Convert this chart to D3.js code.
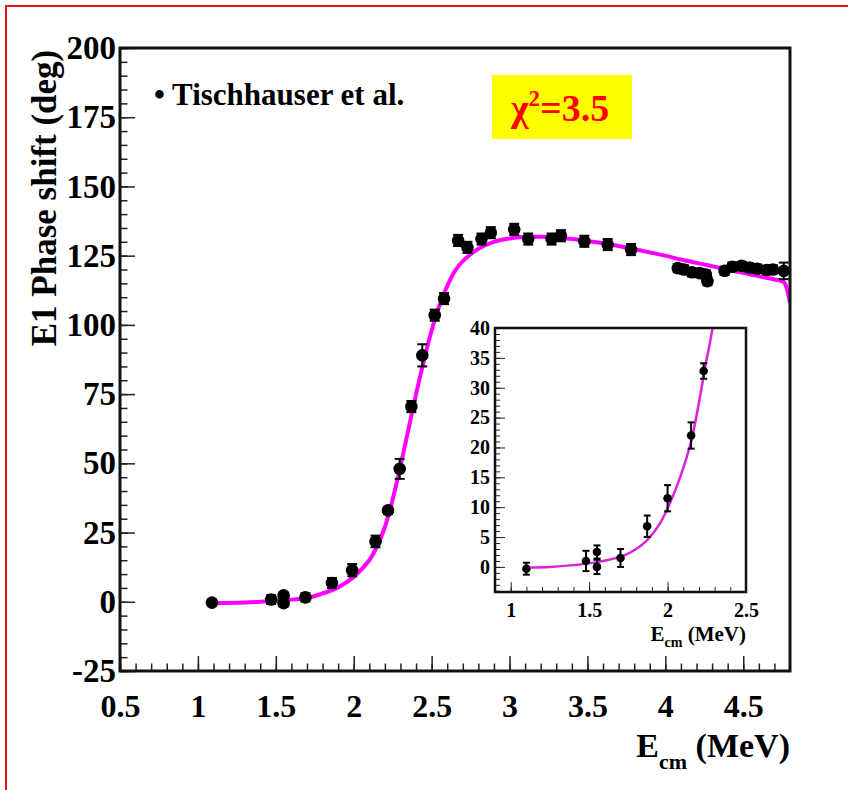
<!DOCTYPE html>
<html>
<head>
<meta charset="utf-8">
<script src="https://cdn.jsdelivr.net/npm/d3@7"></script>
<style>
  body { margin: 0; background: #fff; }
  svg text { font-family: "Liberation Serif", "Times New Roman", serif !important; font-weight: bold; }
</style>
</head>
<body>
<svg id="chart" width="848" height="790"></svg>
<script>
// main data (Tischhauser et al.)
const mainE = [1.09, 1.47, 1.55, 1.55, 1.69, 1.86, 1.99, 2.14, 2.22, 2.295, 2.37, 2.44, 2.52, 2.58,
  2.67, 2.73, 2.82, 2.88, 3.03, 3.12, 3.27, 3.33, 3.48, 3.63, 3.78,
  4.08, 4.12, 4.17, 4.22, 4.26, 4.27, 4.38, 4.43, 4.49, 4.54, 4.59, 4.65, 4.69, 4.76]
const mainPhase = [-0.3, 0.8, 2.3, -0.5, 1.6, 6.8, 11.4, 21.8, 33, 48, 70.5, 89, 103.5, 109.5,
  130.5, 128, 131, 133.3, 134.5, 131, 131, 132.2, 130.2, 129, 127.2,
  120.5, 120, 119, 118.7, 118.2, 115.8, 119.5, 121, 121.3, 120.7, 120.3, 119.8, 120, 119.5]
const mainErr = [1, 1.6, 1.1, 1.2, 1.5, 1.8, 2.2, 2.1, 1.3, 3.6, 2, 4, 2, 2,
  2, 2, 2, 2, 2, 2, 2, 2, 2, 2, 2,
  1.5, 1.5, 1.5, 1.5, 1.5, 1.5, 1.5, 1.5, 1.5, 1.5, 1.5, 1.5, 1.5, 3]

// fit curve
const fitE = [1.1, 1.3, 1.5, 1.7, 1.8, 1.9, 2.0, 2.1, 2.15, 2.2, 2.25, 2.3, 2.35, 2.4, 2.45, 2.5,
  2.55, 2.6, 2.65, 2.7, 2.8, 2.9, 3.0, 3.1, 3.2, 3.3, 3.4, 3.5, 3.6, 3.7, 3.8, 3.9, 4.0,
  4.1, 4.2, 4.3, 4.4, 4.5, 4.6, 4.7, 4.76, 4.78, 4.8]
const fitPhase = [-0.5, -0.3, 0.4, 1.4, 3, 5.2, 9, 15, 20, 27, 37, 49, 62, 75, 87, 98,
  107, 114, 119.5, 123, 127.5, 130, 131.2, 131.7, 131.8, 131.5, 131, 130.3, 129.5, 128.5, 127.3, 126.2, 125,
  123.6, 122.4, 121.2, 120, 118.8, 117.6, 116.4, 115.5, 113, 108]

// inset data
const insetE = [1.10, 1.48, 1.55, 1.55, 1.70, 1.87, 2.00, 2.15, 2.23]
const insetPhase = [-0.3, 1.0, 2.5, 0, 1.5, 6.8, 11.5, 22, 32.8]
const insetErr = [1.0, 1.7, 1.1, 1.2, 1.5, 1.8, 2.2, 2.2, 1.3]
const insetFitE = [1.1, 1.25, 1.4, 1.55, 1.72, 1.8, 1.87, 1.95, 2.02, 2.08, 2.15, 2.2, 2.24, 2.27, 2.29]
const insetFitPhase = [-0.1, 0, 0.3, 0.8, 1.9, 3.0, 4.5, 7.2, 11, 15, 21, 27.5, 33.5, 37.5, 40.5]

// ticks
const xTicks = [0.5, 1, 1.5, 2, 2.5, 3, 3.5, 4, 4.5]
const yTicks = [-25, 0, 25, 50, 75, 100, 125, 150, 175, 200]
const insetXTicks = [1, 1.5, 2, 2.5]
const insetYTicks = [0, 5, 10, 15, 20, 25, 30, 35, 40]

const serif = '"Liberation Serif", "Times New Roman", serif'
const svg = d3.select('#chart')

// red page border
svg.append('rect')
  .attr('x', 6).attr('y', 6).attr('width', 900).attr('height', 900)
  .attr('fill', 'none').attr('stroke', '#ee1111').attr('stroke-width', 2)

// main frame
const mLeft = 120, mRight = 790, mTop = 48, mBottom = 671
const x = d3.scaleLinear().domain([0.5, 4.8]).range([mLeft, mRight])
const y = d3.scaleLinear().domain([-25, 200]).range([mBottom, mTop])

svg.append('clipPath').attr('id', 'mainClip')
  .append('rect').attr('x', mLeft).attr('y', mTop).attr('width', mRight - mLeft).attr('height', mBottom - mTop)

function drawAxes (g, xs, ys, xt, yt, xMinor, yMinor, opt) {
  const b = ys.range()[0], l = xs.range()[0]
  g.append('g').attr('transform', `translate(0,${b})`)
    .call(d3.axisBottom(xs).tickValues(xMinor).tickSize(-opt.minor).tickFormat(''))
  g.append('g').attr('class', 'xlab').attr('transform', `translate(0,${b})`)
    .call(d3.axisBottom(xs).tickValues(xt).tickSize(-opt.major).tickPadding(opt.xPad)
      .tickFormat(d => String(d)))
  g.append('g').attr('transform', `translate(${l},0)`)
    .call(d3.axisLeft(ys).tickValues(yMinor).tickSize(-opt.minor).tickFormat(''))
  g.append('g').attr('class', 'ylab').attr('transform', `translate(${l},0)`)
    .call(d3.axisLeft(ys).tickValues(yt).tickSize(-opt.major).tickPadding(opt.yPad)
      .tickFormat(d => String(d)))
  g.selectAll('.domain').remove()
  g.selectAll('g').attr('font-family', serif)
  g.selectAll('.tick line').attr('stroke', '#222').attr('stroke-width', opt.tickWidth)
  g.selectAll('.tick text').attr('fill', '#000')
    .style('font-family', serif).style('font-weight', 'bold')
  g.selectAll('.xlab .tick text').style('font-size', opt.xFont + 'px')
  g.selectAll('.ylab .tick text').style('font-size', opt.yFont + 'px')
}

const main = svg.append('g')
drawAxes(main, x, y, xTicks, yTicks,
  d3.range(5, 48).map(d => d / 10), d3.range(-25, 201, 5),
  { major: 15, minor: 7.5, xPad: 23, yPad: 4, xFont: 32, yFont: 33, tickWidth: 1.5 })

// fit curve
const line = d3.line().curve(d3.curveCatmullRom.alpha(0.5))
main.append('path')
  .attr('clip-path', 'url(#mainClip)')
  .attr('d', line(fitE.map((e, i) => [x(e), y(fitPhase[i])])))
  .attr('fill', 'none').attr('stroke', '#ff00ff').attr('stroke-width', 4)

// data points
function drawPoints (g, xs, ys, es, ps, errs, r, cap, clip) {
  const pg = g.append('g')
  if (clip) pg.attr('clip-path', clip)
  es.forEach((e, i) => {
    const cx = xs(e), lo = ys(ps[i] - errs[i]), hi = ys(ps[i] + errs[i])
    pg.append('line').attr('x1', cx).attr('x2', cx).attr('y1', lo).attr('y2', hi)
      .attr('stroke', '#000').attr('stroke-width', 2)
    pg.append('line').attr('x1', cx - cap).attr('x2', cx + cap).attr('y1', lo).attr('y2', lo)
      .attr('stroke', '#000').attr('stroke-width', 2)
    pg.append('line').attr('x1', cx - cap).attr('x2', cx + cap).attr('y1', hi).attr('y2', hi)
      .attr('stroke', '#000').attr('stroke-width', 2)
  })
  pg.selectAll('circle').data(es).enter().append('circle')
    .attr('cx', d => xs(d))
    .attr('cy', (d, i) => ys(ps[i]))
    .attr('r', r)
    .attr('fill', '#000')
}
drawPoints(main, x, y, mainE, mainPhase, mainErr, 6.3, 5, 'url(#mainClip)')

main.append('rect')
  .attr('x', mLeft).attr('y', mTop).attr('width', mRight - mLeft).attr('height', mBottom - mTop)
  .attr('fill', 'none').attr('stroke', '#111').attr('stroke-width', 3)

// axis titles
svg.append('text')
  .attr('transform', 'translate(56,198) rotate(-90)')
  .attr('text-anchor', 'middle').style('font-size', '35px')
  .text('E1 Phase shift (deg)')

const xt = svg.append('text')
  .attr('x', mRight).attr('y', 757).attr('text-anchor', 'end').style('font-size', '34px')
xt.append('tspan').text('E')
xt.append('tspan').style('font-size', '22px').attr('dy', 12).text('cm')
xt.append('tspan').attr('dy', -12).text(' (MeV)')

// legend
svg.append('text').attr('x', 154).attr('y', 105).style('font-size', '31px')
  .text('\u2022 Tischhauser et al.')

svg.append('rect').attr('x', 492).attr('y', 75).attr('width', 140).attr('height', 64)
  .attr('fill', '#ffff00')
const chi = svg.append('text').attr('x', 511).attr('y', 121).style('font-size', '38px').attr('fill', '#ff0000')
chi.append('tspan').text('\u03c7')
chi.append('tspan').style('font-size', '23px').attr('dy', -15).text('2')
chi.append('tspan').attr('dy', 15).text('=3.5')

// inset
const iL = 495, iR = 746, iT = 328, iB = 592
const ix = d3.scaleLinear().domain([0.9, 2.5]).range([iL, iR])
const iy = d3.scaleLinear().domain([-4.2, 40]).range([iB, iT])

svg.append('rect').attr('x', iL).attr('y', iT).attr('width', iR - iL).attr('height', iB - iT)
  .attr('fill', '#fff')
svg.append('clipPath').attr('id', 'insetClip')
  .append('rect').attr('x', iL).attr('y', iT).attr('width', iR - iL).attr('height', iB - iT)

const inset = svg.append('g')
drawAxes(inset, ix, iy, insetXTicks, insetYTicks,
  d3.range(9, 25).map(d => d / 10), d3.range(-4, 41, 1),
  { major: 10, minor: 5, xPad: 11, yPad: 5, xFont: 20, yFont: 20, tickWidth: 1 })

inset.append('path')
  .attr('clip-path', 'url(#insetClip)')
  .attr('d', line(insetFitE.map((e, i) => [ix(e), iy(insetFitPhase[i])])))
  .attr('fill', 'none').attr('stroke', '#dd22dd').attr('stroke-width', 2.5)

drawPoints(inset, ix, iy, insetE, insetPhase, insetErr, 4.3, 3.5, 'url(#insetClip)')

inset.append('rect').attr('x', iL).attr('y', iT).attr('width', iR - iL).attr('height', iB - iT)
  .attr('fill', 'none').attr('stroke', '#111').attr('stroke-width', 2.5)

const it = svg.append('text')
  .attr('x', iR).attr('y', 641).attr('text-anchor', 'end').style('font-size', '21px')
it.append('tspan').text('E')
it.append('tspan').style('font-size', '14px').attr('dy', 6).text('cm')
it.append('tspan').attr('dy', -6).text(' (MeV)')
</script>
</body>
</html>
